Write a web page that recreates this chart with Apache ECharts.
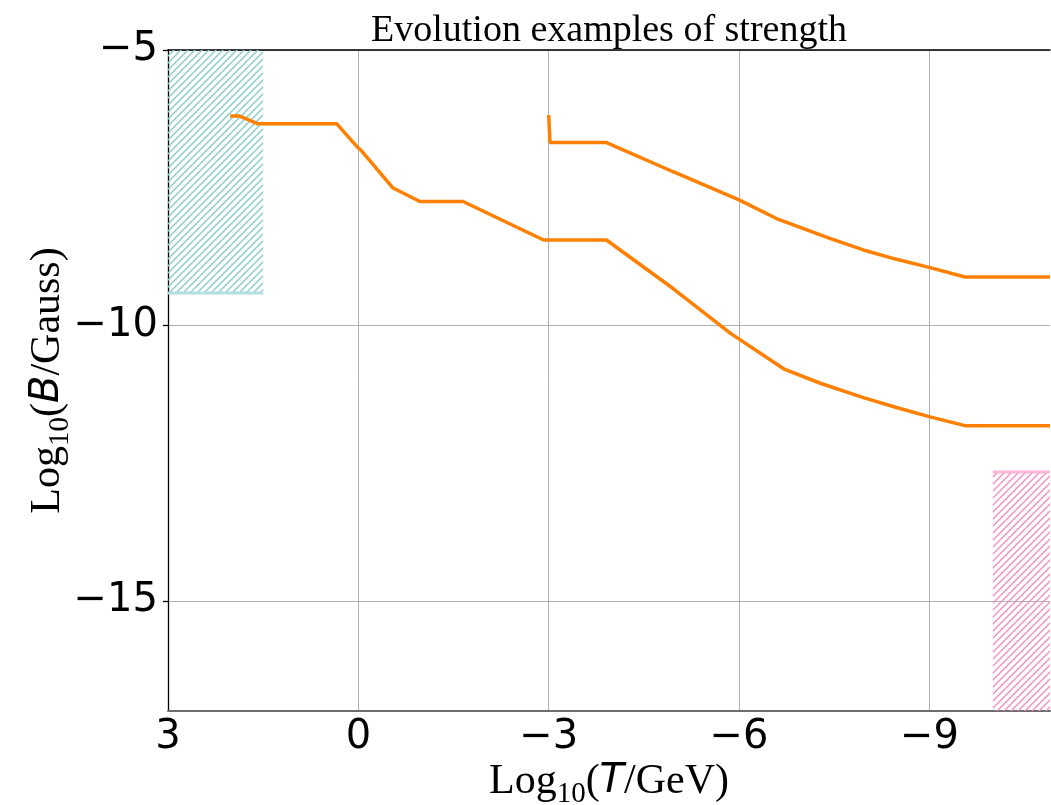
<!DOCTYPE html>
<html>
<head>
<meta charset="utf-8">
<script src="https://cdn.jsdelivr.net/npm/echarts@6/dist/echarts.min.js"></script>
<style>
  html, body { margin: 0; padding: 0; background: #fff; }
  #chart { width: 1051px; height: 805px; }
</style>
</head>
<body>
<div id="chart"></div>
<script>
// Axis ranges and tick positions (log10 scale values)
const titleText = 'Evolution examples of strength';
const xRange = [-10.9, 3];
const yRange = [-17, -5];
const xTicks = [3, 0, -3, -6, -9];
const yTicks = [-15, -10, -5];

// Lower evolution track: log10(T/GeV) and log10(B/Gauss)
const lowerT = [2.02, 1.87, 1.58, 0.34, 0.00, -0.05, -0.54, -0.97, -1.65, -2.92, -3.91, -4.96, -5.86, -6.72, -7.28, -7.96, -8.48, -9.01, -9.56, -10.9];
const lowerB = [-6.20, -6.20, -6.34, -6.34, -6.78, -6.83, -7.50, -7.75, -7.75, -8.45, -8.45, -9.33, -10.14, -10.80, -11.05, -11.31, -11.49, -11.66, -11.82, -11.82];

// Upper evolution track
const upperT = [-3.00, -3.02, -3.91, -4.96, -6.00, -6.59, -7.43, -7.96, -8.48, -9.01, -9.56, -10.9];
const upperB = [-6.18, -6.68, -6.68, -7.21, -7.72, -8.06, -8.42, -8.63, -8.80, -8.95, -9.12, -9.12];

// Excluded regions: [T from, T to], [B from, B to]
const tealBandT = [1.5, 3];
const tealBandB = [-9.41, -5];
const pinkBandT = [-10.9, -10];
const pinkBandB = [-17, -12.66];

function zip(xs, ys) { return xs.map((x, i) => [x, ys[i]]); }

function fmt(v) { return v < 0 ? '\u2212' + Math.abs(v) : String(v); }

// Diagonal "////" hatch tile
function hatchTile(color, step, width) {
  const c = document.createElement('canvas');
  c.width = step; c.height = step;
  const g = c.getContext('2d');
  g.strokeStyle = color;
  g.lineWidth = width;
  g.beginPath();
  g.moveTo(-1, step + 1); g.lineTo(step + 1, -1);
  g.moveTo(-1, 1); g.lineTo(1, -1);
  g.moveTo(step - 1, step + 1); g.lineTo(step + 1, step - 1);
  g.stroke();
  return c;
}

function bandSeries(tRange, bRange, hatchColor, edgeB, edgeColor) {
  const tile = hatchTile(hatchColor, 7, 1.4);
  return {
    type: 'custom',
    silent: true,
    clip: true,
    z: 1,
    data: [[tRange[0], tRange[1], bRange[0], bRange[1], edgeB]],
    renderItem(params, api) {
      const a = api.coord([api.value(0), api.value(2)]);
      const b = api.coord([api.value(1), api.value(3)]);
      const x = Math.min(a[0], b[0]), w = Math.abs(a[0] - b[0]);
      const y = Math.min(a[1], b[1]), h = Math.abs(a[1] - b[1]);
      const ey = api.coord([api.value(0), api.value(4)])[1];
      return {
        type: 'group',
        children: [
          { type: 'rect', shape: { x, y, width: w, height: h },
            style: { fill: { image: tile, repeat: 'repeat' }, stroke: null } },
          { type: 'line', shape: { x1: x, y1: ey, x2: x + w, y2: ey },
            style: { stroke: edgeColor, lineWidth: 3 } }
        ]
      };
    }
  };
}

const serif = '"Liberation Serif", "Times New Roman", serif';
const nameRich = {
  n: { fontFamily: serif, fontSize: 42, lineHeight: 54, color: '#000' },
  s: { fontFamily: serif, fontSize: 29, lineHeight: 29, verticalAlign: 'bottom', color: '#000' },
  i: { fontFamily: 'DejaVu Sans', fontStyle: 'italic', fontSize: 40, lineHeight: 54, color: '#000' }
};

const chart = echarts.init(document.getElementById('chart'));
chart.setOption({
  animation: false,
  backgroundColor: '#fff',
  title: {
    text: titleText,
    left: 604,
    top: 7,
    textAlign: 'center',
    textStyle: { fontFamily: serif, fontSize: 38, fontWeight: 'normal', color: '#000' }
  },
  grid: { left: 168, right: 1, top: 50, bottom: 94, containLabel: false, outerBoundsMode: 'none' },
  xAxis: [{
    type: 'value',
    inverse: true,
    min: xRange[0],
    max: xRange[1],
    position: 'bottom',
    name: '{n|Log}{s|10}{n|(}{i|T}{n|/GeV)}',
    nameLocation: 'middle',
    nameGap: 44,
    nameMoveOverlap: false,
    nameTextStyle: { rich: nameRich },
    axisLine: { show: true, onZero: false, lineStyle: { color: '#6e6e6e', width: 2 } },
    axisTick: { show: false, customValues: xTicks },
    axisLabel: {
      customValues: xTicks,
      formatter: fmt,
      fontFamily: 'DejaVu Sans',
      fontSize: 40,
      color: '#000',
      margin: 7
    },
    splitLine: { show: true, lineStyle: { color: '#b0b0b0', width: 1 } }
  }, {
    type: 'value',
    inverse: true,
    min: xRange[0],
    max: xRange[1],
    position: 'top',
    axisLine: { show: true, onZero: false, lineStyle: { color: '#000', width: 1.5 } },
    axisTick: { show: false },
    axisLabel: { show: false },
    splitLine: { show: false }
  }],
  yAxis: {
    type: 'value',
    min: yRange[0],
    max: yRange[1],
    name: '{n|Log}{s|10}{n|(}{i|B}{n|/Gauss)}',
    nameLocation: 'middle',
    nameGap: 93,
    nameMoveOverlap: false,
    nameTextStyle: { rich: nameRich },
    axisLine: { show: true, onZero: false, lineStyle: { color: '#000', width: 1.3 } },
    axisTick: { show: true, customValues: yTicks, length: 5, lineStyle: { color: '#000', width: 1.3 } },
    axisLabel: {
      customValues: yTicks,
      formatter: fmt,
      fontFamily: 'DejaVu Sans',
      fontSize: 40,
      color: '#000',
      margin: 10
    },
    splitLine: { show: true, lineStyle: { color: '#b0b0b0', width: 1 } }
  },
  series: [
    bandSeries(tealBandT, tealBandB, '#86cccc', tealBandB[0], '#b4dfdf'),
    bandSeries(pinkBandT, pinkBandB, '#f38dc4', pinkBandB[1], '#f8b6d9'),
    {
      type: 'line', data: zip(lowerT, lowerB), showSymbol: false, symbol: 'none',
      lineStyle: { color: '#ff8000', width: 3.5 }, z: 3, clip: true
    },
    {
      type: 'line', data: zip(upperT, upperB), showSymbol: false, symbol: 'none',
      lineStyle: { color: '#ff8000', width: 3.5 }, z: 3, clip: true
    }
  ]
});
</script>
</body>
</html>
